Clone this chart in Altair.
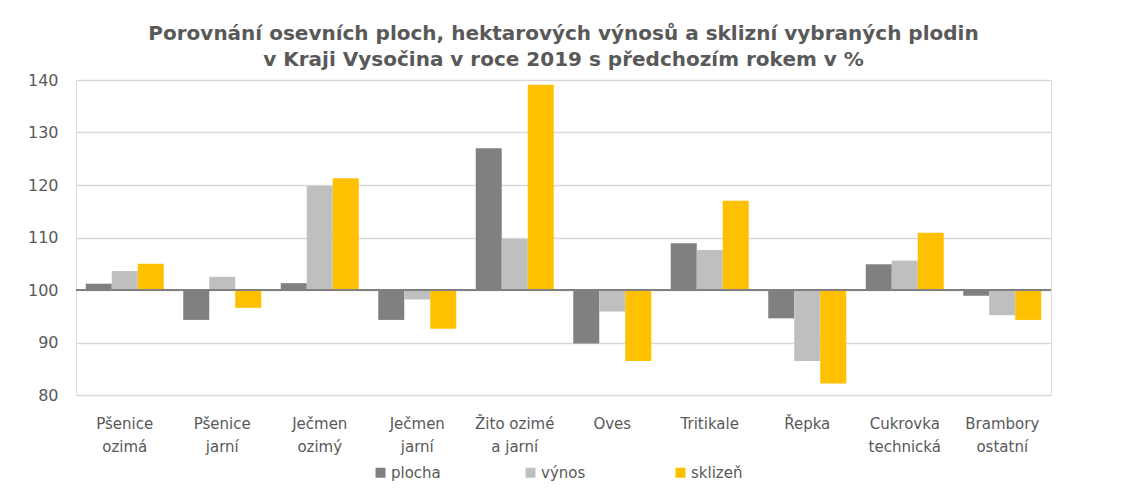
import altair as alt
import pandas as pd

plodiny = ["Pšenice|ozimá", "Pšenice|jarní", "Ječmen|ozimý", "Ječmen|jarní",
           "Žito ozimé|a jarní", "Oves", "Tritikale", "Řepka",
           "Cukrovka|technická", "Brambory|ostatní"]
serie = ["plocha", "výnos", "sklizeň"]
plocha = [101.2, 94.3, 101.3, 94.3, 127.0, 89.8, 108.9, 94.6, 104.9, 98.9]
vynos = [103.6, 102.5, 119.8, 98.2, 109.7, 95.9, 107.6, 86.5, 105.6, 95.2]
sklizen = [105.0, 96.6, 121.3, 92.6, 139.1, 86.5, 117.0, 82.2, 110.9, 94.3]
barvy = ["#808080", "#bfbfbf", "#ffc000"]

rows = []
for i, p in enumerate(plodiny):
    for s, vals in zip(serie, [plocha, vynos, sklizen]):
        rows.append({"plodina": p, "ukazatel": s, "hodnota": vals[i]})
df = pd.DataFrame(rows)

FONT = "DejaVu Sans"
TXT = "#595959"

bars = alt.Chart(df).mark_bar().encode(
    x=alt.X("plodina:N", sort=plodiny, title=None,
            scale=alt.Scale(paddingInner=0.2, paddingOuter=0.1),
            axis=alt.Axis(labelAngle=0, ticks=False, domain=False, grid=False,
                          labelExpr="split(datum.value, '|')",
                          labelFontSize=15, labelColor=TXT, labelFont=FONT,
                          labelPadding=21, labelLineHeight=23, labelLimit=200)),
    xOffset=alt.XOffset("ukazatel:N", sort=serie),
    y=alt.Y("hodnota:Q", title=None,
            scale=alt.Scale(domain=[80, 140], nice=False, zero=False),
            axis=alt.Axis(values=[80, 90, 100, 110, 120, 130, 140], ticks=False,
                          domain=False, gridColor="#d9d9d9", gridWidth=1.5,
                          labelFontSize=16, labelColor=TXT, labelFont=FONT,
                          labelPadding=18)),
    y2=alt.datum(100),
    color=alt.Color("ukazatel:N", sort=serie,
                    scale=alt.Scale(domain=serie, range=barvy),
                    legend=alt.Legend(title=None, orient="none", direction="horizontal",
                                      legendX=297, legendY=385, symbolType="square",
                                      symbolSize=100, symbolStrokeWidth=0,
                                      labelFontSize=15, labelColor=TXT, labelFont=FONT,
                                      gridAlign="all", columnPadding=80, labelOffset=3)),
)

rule = alt.Chart(df).mark_rule(color="#808080", strokeWidth=2).encode(y=alt.datum(100))

chart = alt.layer(bars, rule).properties(
    width=975, height=315,
    autosize=alt.AutoSizeParams(type="none"),
    padding={"left": 68, "top": 72, "right": 60, "bottom": 90},
    title=alt.TitleParams(
        ["Porovnání osevních ploch,  hektarových výnosů a sklizní vybraných plodin",
         "v Kraji  Vysočina v roce 2019 s předchozím rokem v %"],
        fontSize=20, font=FONT, fontWeight="bold", color=TXT, anchor="middle",
        lineHeight=26, offset=2),
).configure_view(stroke="#d9d9d9", strokeWidth=1.5).configure(background="white")

chart.save("out.html", embed_options={"renderer": "svg", "actions": False})
